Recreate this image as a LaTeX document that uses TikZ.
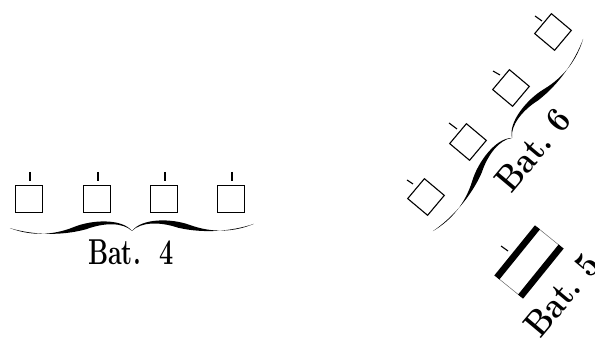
\documentclass[tikz,border=0pt]{standalone}
\usepackage{amsmath}
\newcommand{\halfbrace}{(-122,5) .. controls (-102,-3) and (-80,-3.5) .. (-58,5) .. controls (-40,12) and (-10,13) .. (0,0) .. controls (-9,9) and (-28,9) .. (-46,2.5) .. controls (-72,-4) and (-100,-2) .. (-122,5) -- cycle}
\tikzset{
    batsquare/.style={draw=black, line width=1.1pt, minimum size=26pt, inner sep=0pt},
    tickline/.style={black, line width=1.1pt},
    battext/.style={font=\fontsize{36}{42}\selectfont\bfseries, inner sep=0pt, transform shape}
}

\begin{document}
\begin{tikzpicture}[x=1pt, y=1pt]
    \useasboundingbox (0,0) rectangle (595,342);
    % Bat. 4
    \node[batsquare, minimum size=27pt] (sqa) at (29,143) {};
    \node[batsquare, minimum size=27pt] (sqb) at (97,143) {};
    \node[batsquare, minimum size=27pt] (sqc) at (164,143) {};
    \node[batsquare, minimum size=27pt] (sqd) at (231,143) {};
    \draw[tickline] (30,170) -- (30,161);
    \draw[tickline] (98,170) -- (98,161);
    \draw[tickline] (165,170) -- (165,161);
    \draw[tickline] (232,170) -- (232,161);
    \begin{scope}[shift={(132,111)}, rotate=1]
        \fill[black] \halfbrace;
        \fill[black, xscale=-1] \halfbrace;
    \end{scope}
    \node[battext, xscale=0.7] (batfour) at (131,90) {Bat.\ \ 4};

    % Bat. 6
    \node[batsquare, rotate=50] (sqe) at (426,145) {};
    \node[batsquare, rotate=50] (sqf) at (468,200) {};
    \node[batsquare, rotate=50] (sqg) at (511,254) {};
    \node[batsquare, rotate=50] (sqh) at (553,310) {};
    \draw[tickline] (407,162) -- (413,158);
    \draw[tickline] (449,219) -- (457,213);
    \draw[tickline] (493,271) -- (500,267);
    \draw[tickline] (535,326) -- (542,321);
    \begin{scope}[shift={(512,204)}, rotate=52]
        \fill[black] \halfbrace;
        \fill[black, xscale=-1] \halfbrace;
    \end{scope}
    \node[battext, rotate=50, xscale=0.87] (batsix) at (533,192) {Bat.\ 6};

    % Bat. 5
    \node[draw=black!60, line width=0.5pt, minimum width=64pt, minimum height=30pt, inner sep=0pt, rotate=51] (rect) at (529,80) {};
    \draw[black, line width=6.5pt] (rect.north west) -- (rect.north east);
    \draw[black, line width=6.5pt] (rect.south west) -- (rect.south east);
    \draw[tickline] (501,96) -- (508,91);
    \node[battext, rotate=50, xscale=0.87] (batfive) at (562,47) {Bat.\ 5};
\end{tikzpicture}
\end{document}
